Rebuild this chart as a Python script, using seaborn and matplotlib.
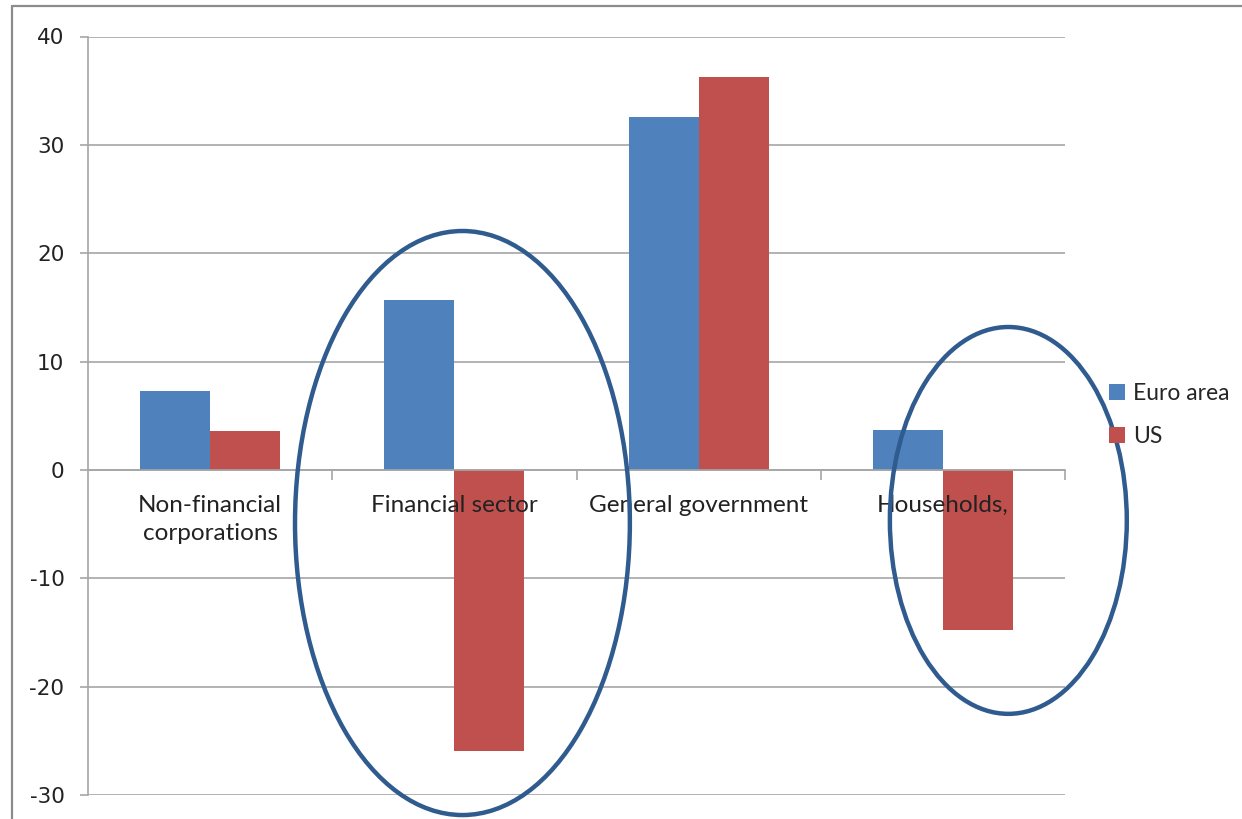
import matplotlib
matplotlib.use("Agg")
import matplotlib.pyplot as plt
import seaborn as sns
import pandas as pd
from matplotlib.patches import Ellipse, Patch
from matplotlib.lines import Line2D
from matplotlib.ticker import FixedLocator
import matplotlib.transforms as mtransforms

categories = ["Non-financial\ncorporations", "Financial sector", "General government", "Households,"]
euro_area = [7.3, 15.7, 32.6, 3.7]
us = [3.6, -25.9, 36.3, -14.8]
series_names = ["Euro area", "US"]
yticks = [-30, -20, -10, 0, 10, 20, 30, 40]

df = pd.DataFrame({
    "sector": categories * 2,
    "value": euro_area + us,
    "region": [series_names[0]] * 4 + [series_names[1]] * 4,
})

sns.set_theme(style="white")
plt.rcParams["font.family"] = ["DejaVu Sans"]
plt.rcParams["axes.unicode_minus"] = False

W, H = 1242, 819
fig = plt.figure(figsize=(12.42, 8.19), dpi=100)
ax = fig.add_axes([88 / W, 1 - 795 / H, (1065 - 88) / W, (795 - 36.5) / H])

colors = {"Euro area": "#4F81BD", "US": "#C0504D"}
sns.barplot(data=df, x="sector", y="value", hue="region", order=categories,
            hue_order=series_names, palette=colors, width=0.573, gap=0,
            saturation=1, ax=ax, legend=False, zorder=3, linewidth=0)

ax.set_xlim(-0.5, 3.5)
ax.set_ylim(-30, 40)
ax.set_yticks(yticks)
ax.set_xlabel("")
ax.set_ylabel("")
ax.grid(axis="y", color="#a6a6a6", lw=1.2, zorder=0)
ax.set_axisbelow(True)

for s in ["top", "right"]:
    ax.spines[s].set_visible(False)
for s in ["left", "bottom"]:
    ax.spines[s].set_color("#a6a6a6")
    ax.spines[s].set_linewidth(1.2)
ax.spines["bottom"].set_position(("data", 0))
ax.spines["bottom"].set_zorder(4)

ax.tick_params(axis="y", which="major", left=True, length=6, width=1.2,
               color="#a6a6a6", labelsize=15.5, pad=11, labelcolor="#222222")
ax.set_xticks(range(len(categories)))
ax.set_xticklabels([])
ax.tick_params(axis="x", which="major", length=0)
ax.xaxis.set_minor_locator(FixedLocator([0.5, 1.5, 2.5, 3.5]))
ax.tick_params(axis="x", which="minor", bottom=True, length=7, width=1.2,
               color="#a6a6a6", direction="out")

# category labels below the zero line, drawn above the bars
trans = mtransforms.offset_copy(ax.transData, fig=fig, x=0, y=-25, units="dots")
for i, lab in enumerate(categories):
    ax.text(i, 0, lab, transform=trans, ha="center", va="top", fontfamily="Lato",
            fontsize=17.5, color="#222222", linespacing=1.4, zorder=4.5)

# annotation ellipses
ell_color = "#2F5B8E"
ax.add_patch(Ellipse((1.033, -4.9), 1.371, 53.9, fill=False, ec=ell_color,
                     lw=3.2, clip_on=False, zorder=5))
ax.add_patch(Ellipse((3.268, -4.66), 0.970, 35.7, fill=False, ec=ell_color,
                     lw=3.2, clip_on=False, zorder=5))

handles = [Patch(facecolor=colors[n], edgecolor="none", label=n) for n in series_names]
fig.legend(handles=handles, loc="center left", bbox_to_anchor=(1088 / W, 1 - 415 / H),
           frameon=False, prop={"family": "Lato", "size": 16.5},
           handlelength=0.7, handleheight=0.7, handletextpad=0.35, labelspacing=1.0)

# outer frame
fig.add_artist(Line2D([12 / W, 12 / W], [0, 1 - 6 / H], color="#8c8c8c", lw=1.6,
                      transform=fig.transFigure))
fig.add_artist(Line2D([12 / W, 1], [1 - 6 / H, 1 - 6 / H], color="#8c8c8c", lw=1.6,
                      transform=fig.transFigure))

fig.savefig("out.png", dpi=100)
